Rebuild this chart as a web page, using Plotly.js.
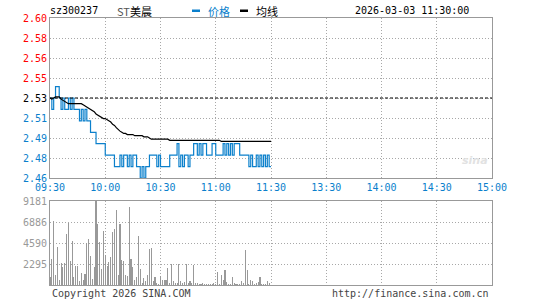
<!DOCTYPE html>
<html>
<head>
<meta charset="utf-8">
<script src="https://cdn.plot.ly/plotly-3.0.1.min.js"></script>
<style>html,body{margin:0;padding:0;background:#fff;}#chart{width:545px;height:300px;}</style>
</head>
<body>
<div id="chart"></div>
<script>
// ---- data ----
const prices = [
2.53,2.52,2.53,2.54,2.54,2.53,2.52,2.53,2.52,2.52,
2.53,2.52,2.53,2.52,2.52,2.52,2.51,2.52,2.51,2.52,
2.51,2.51,2.50,2.50,2.50,2.49,2.49,2.49,2.49,2.49,
2.48,2.48,2.48,2.48,2.48,2.47,2.47,2.47,2.48,2.47,
2.48,2.48,2.47,2.48,2.47,2.48,2.48,2.47,2.47,2.46,
2.47,2.46,2.47,2.47,2.48,2.48,2.48,2.48,2.47,2.48,
2.47,2.47,2.47,2.47,2.47,2.48,2.48,2.48,2.48,2.49,
2.47,2.48,2.47,2.48,2.48,2.47,2.48,2.48,2.49,2.49,
2.48,2.49,2.48,2.49,2.49,2.48,2.48,2.48,2.49,2.49,
2.48,2.48,2.48,2.48,2.49,2.48,2.49,2.48,2.49,2.48,
2.49,2.49,2.49,2.48,2.48,2.48,2.48,2.48,2.47,2.48,
2.47,2.47,2.48,2.47,2.48,2.47,2.48,2.47,2.48,2.47,
2.47];
const avgPrices = [
2.530,2.529,2.530,2.531,2.531,2.531,2.529,2.528,2.527,2.526,
2.525,2.525,2.525,2.525,2.525,2.525,2.525,2.525,2.524,2.523,
2.522,2.521,2.520,2.519,2.518,2.516,2.515,2.514,2.513,2.512,
2.512,2.511,2.510,2.509,2.507,2.506,2.504,2.502,2.501,2.500,
2.499,2.499,2.498,2.498,2.498,2.498,2.497,2.497,2.497,2.497,
2.497,2.496,2.496,2.496,2.495,2.494,2.494,2.494,2.494,2.494,
2.494,2.494,2.494,2.494,2.494,2.493,2.493,2.493,2.493,2.493,
2.493,2.493,2.493,2.493,2.493,2.493,2.493,2.493,2.493,2.493,
2.493,2.493,2.493,2.493,2.493,2.493,2.493,2.493,2.493,2.493,
2.493,2.493,2.493,2.492,2.492,2.492,2.492,2.492,2.492,2.492,
2.492,2.492,2.492,2.492,2.492,2.492,2.492,2.492,2.492,2.492,
2.492,2.492,2.492,2.492,2.492,2.492,2.492,2.492,2.492,2.492,
2.492];
const volumes = [
870,2840,7030,1130,4110,580,2400,1970,2400,5570,
6770,2660,4840,870,2110,2110,470,1310,580,1200,
4590,5020,3200,650,1970,9181,6700,4730,1750,5930,
3310,2040,2480,3060,5820,6120,8190,1090,6660,2730,
2660,1090,1020,8560,2880,1970,580,870,5320,1750,
220,760,400,1130,3930,4040,470,870,220,150,
950,580,510,510,1860,220,2290,400,220,220,
2290,400,220,330,2290,220,400,220,2220,220,
220,110,150,220,150,150,110,150,150,220,
150,1420,110,1060,580,1640,330,110,110,870,
220,110,150,150,400,220,3820,1640,110,550,
400,150,220,330,870,150,110,150,440,220,
40];
const minutes = prices.map((_, i) => i);

const timeTicks = [0, 30, 60, 90, 120, 150, 180, 210, 240];
const timeLabels = ['09:30','10:00','10:30','11:00','11:30','13:30','14:00','14:30','15:00'];
const prevClose = 2.53;
const priceTicks = [2.46, 2.4775, 2.495, 2.5125, 2.53, 2.5475, 2.565, 2.5825, 2.60];
const priceLabels = ['2.46','2.48','2.49','2.51','2.53','2.55','2.56','2.58','2.60'];
const pctLabels = ['-2.77%','-2.08%','-1.38%','-0.69%','-0.00%','+0.69%','+1.38%','+2.08%','+2.77%'];
const volTicks = [2295, 4590, 6886, 9181];
const volLabels = ['2295','4590','6886','9181'];

// ---- styling ----
const RED = '#ff0000', BLUE = '#0a7fcc', BLACK = '#000000';
const MONO = 'DejaVu Sans Mono, monospace';
function colorFor(i) { return i < 4 ? BLUE : (i === 4 ? BLACK : RED); }
const priceTickText = priceLabels.map((t, i) => '<span style="color:' + colorFor(i) + '">' + t + '</span>');
const pctTickText = pctLabels.map((t, i) => '<span style="color:' + colorFor(i) + '">' + t + '</span>');

const traces = [
  { x: minutes, y: prices, type: 'scatter', mode: 'lines', line: { color: '#0b80cc', width: 1.2, shape: 'hv' }, xaxis: 'x', yaxis: 'y' },
  { x: minutes, y: avgPrices, type: 'scatter', mode: 'lines', line: { color: BLACK, width: 1.2 }, xaxis: 'x', yaxis: 'y' },
  { x: minutes, y: volumes, type: 'bar', width: 0.6, marker: { color: '#999999', line: { width: 0 } }, xaxis: 'x2', yaxis: 'y3' }
];

const gridCommon = { showgrid: true, gridcolor: '#a8a8a8', griddash: '1px,2px', gridwidth: 1, zeroline: false,
  showline: true, mirror: true, linecolor: '#999999', linewidth: 1 };

const priceTop = 1, priceBottom = (285 - 178) / 267, volTop = (285 - 201) / 267;

const layout = {
  width: 545, height: 300,
  margin: { l: 50, r: 53, t: 18, b: 15, pad: 0 },
  paper_bgcolor: '#ffffff', plot_bgcolor: '#ffffff',
  showlegend: false, bargap: 0,
  font: { family: MONO, size: 10, color: '#000' },
  xaxis: Object.assign({}, gridCommon, { domain: [0, 1], range: [0, 240], anchor: 'y',
    tickvals: timeTicks, ticktext: timeLabels, tickfont: { family: MONO, size: 10, color: BLUE }, ticks: '' }),
  yaxis: Object.assign({}, gridCommon, { domain: [priceBottom, priceTop], range: [2.46, 2.60], anchor: 'x',
    tickvals: priceTicks, ticktext: priceTickText, tickfont: { family: MONO, size: 10 }, ticks: '' }),
  yaxis2: { overlaying: 'y', side: 'right', anchor: 'x', range: [2.46, 2.60], showgrid: false, zeroline: false,
    tickvals: priceTicks, ticktext: pctTickText, tickfont: { family: MONO, size: 10 }, ticks: '' },
  xaxis2: Object.assign({}, gridCommon, { domain: [0, 1], range: [0, 240], anchor: 'y3',
    tickvals: timeTicks, showticklabels: false, ticks: '' }),
  yaxis3: Object.assign({}, gridCommon, { domain: [0, volTop], range: [0, 9181], anchor: 'x2',
    tickvals: volTicks, ticktext: volLabels, tickfont: { family: MONO, size: 10, color: '#999999' }, ticks: '' }),
  shapes: [
    { type: 'line', xref: 'x domain', yref: 'y', x0: 0, x1: 1, y0: prevClose, y1: prevClose, line: { color: BLACK, width: 1, dash: '3px,2px' } },
    { type: 'rect', xref: 'paper', yref: 'paper', x0: (192 - 50) / 442, x1: (200 - 50) / 442, y0: (285 - 12) / 267, y1: (285 - 9.5) / 267, fillcolor: BLUE, line: { width: 0 } },
    { type: 'rect', xref: 'paper', yref: 'paper', x0: (240 - 50) / 442, x1: (248 - 50) / 442, y0: (285 - 12) / 267, y1: (285 - 9.5) / 267, fillcolor: BLACK, line: { width: 0 } }
  ],
  annotations: [
    { text: 'sz300237', xref: 'paper', yref: 'paper', x: (48 - 50) / 442, y: (285 - 10.5) / 267, xanchor: 'left', yanchor: 'middle', showarrow: false, font: { family: MONO, size: 10, color: '#000' } },
    { text: '<span style="color:#555">ST</span>美晨', xref: 'paper', yref: 'paper', x: (115 - 50) / 442, y: (285 - 10.5) / 267, xanchor: 'left', yanchor: 'middle', showarrow: false, font: { family: 'Noto Sans CJK SC, DejaVu Sans', size: 11, color: '#000' } },
    { text: '价格', xref: 'paper', yref: 'paper', x: (206 - 50) / 442, y: (285 - 10.5) / 267, xanchor: 'left', yanchor: 'middle', showarrow: false, font: { family: 'Noto Sans CJK SC', size: 11, color: BLUE } },
    { text: '均线', xref: 'paper', yref: 'paper', x: (254 - 50) / 442, y: (285 - 10.5) / 267, xanchor: 'left', yanchor: 'middle', showarrow: false, font: { family: 'Noto Sans CJK SC', size: 11, color: '#000' } },
    { text: '2026-03-03 11:30:00', xref: 'paper', yref: 'paper', x: (471 - 50) / 442, y: (285 - 10.5) / 267, xanchor: 'right', yanchor: 'middle', showarrow: false, font: { family: MONO, size: 10, color: '#000' } },
    { text: 'Copyright 2026 SINA.COM', xref: 'paper', yref: 'paper', x: 0, y: (285 - 293) / 267, xanchor: 'left', yanchor: 'middle', showarrow: false, font: { family: MONO, size: 10, color: '#444' } },
    { text: 'http://finance.sina.com.cn', xref: 'paper', yref: 'paper', x: (491 - 50) / 442, y: (285 - 293) / 267, xanchor: 'right', yanchor: 'middle', showarrow: false, font: { family: MONO, size: 10, color: '#444' } },
    { text: '<i><b>sina</b></i>', xref: 'paper', yref: 'paper', x: (475 - 50) / 442, y: (285 - 160) / 267, xanchor: 'center', yanchor: 'middle', showarrow: false, font: { family: 'DejaVu Sans', size: 11, color: '#e2e2e2' } }
  ]
};

Plotly.newPlot('chart', traces, layout, { staticPlot: true, displayModeBar: false });
</script>
</body>
</html>
